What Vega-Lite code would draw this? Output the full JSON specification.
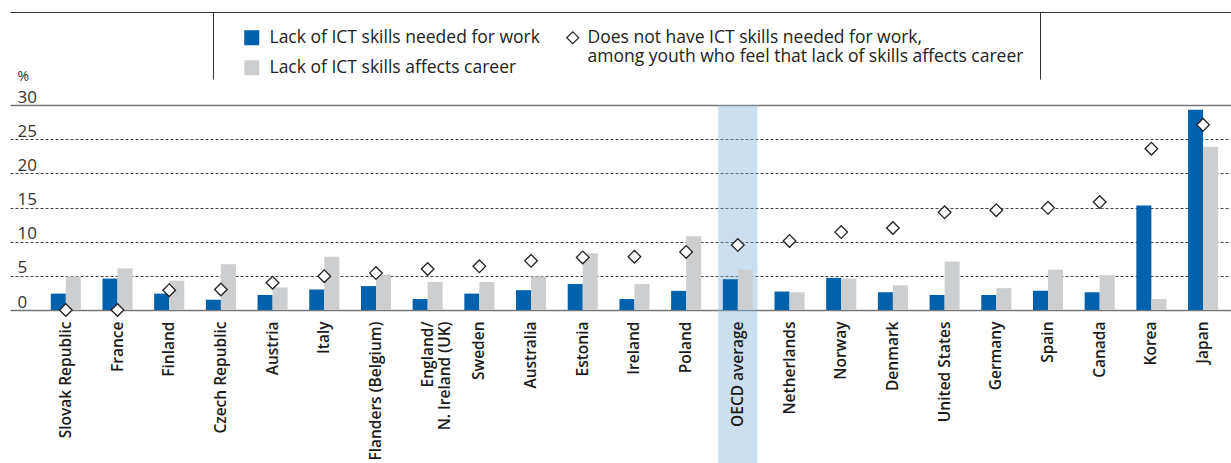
{
  "$schema": "https://vega.github.io/schema/vega-lite/v6.json",
  "width": 1221,
  "height": 205,
  "autosize": {"type": "none"},
  "padding": {"left": 10, "top": 105, "right": 0, "bottom": 153},
  "config": {"view": {"stroke": null}, "font": "Open Sans"},
  "data": {
    "values": [
      {"country": "Slovak Republic", "work": 2.4, "career": 4.9, "noskills": 0},
      {"country": "France", "work": 4.6, "career": 6.1, "noskills": 0},
      {"country": "Finland", "work": 2.4, "career": 4.3, "noskills": 2.9},
      {"country": "Czech Republic", "work": 1.5, "career": 6.7, "noskills": 3.0},
      {"country": "Austria", "work": 2.2, "career": 3.3, "noskills": 4.0},
      {"country": "Italy", "work": 3.0, "career": 7.8, "noskills": 4.95},
      {"country": "Flanders (Belgium)", "work": 3.5, "career": 5.2, "noskills": 5.4},
      {"country": "England/N. Ireland (UK)", "work": 1.6, "career": 4.1, "noskills": 6.0},
      {"country": "Sweden", "work": 2.4, "career": 4.1, "noskills": 6.4},
      {"country": "Australia", "work": 2.9, "career": 4.9, "noskills": 7.2},
      {"country": "Estonia", "work": 3.8, "career": 8.3, "noskills": 7.7},
      {"country": "Ireland", "work": 1.6, "career": 3.8, "noskills": 7.8},
      {"country": "Poland", "work": 2.8, "career": 10.8, "noskills": 8.5},
      {"country": "OECD average", "work": 4.5, "career": 5.9, "noskills": 9.5},
      {"country": "Netherlands", "work": 2.7, "career": 2.6, "noskills": 10.1},
      {"country": "Norway", "work": 4.7, "career": 4.6, "noskills": 11.4},
      {"country": "Denmark", "work": 2.6, "career": 3.6, "noskills": 12.0},
      {"country": "United States", "work": 2.2, "career": 7.1, "noskills": 14.3},
      {"country": "Germany", "work": 2.2, "career": 3.2, "noskills": 14.6},
      {"country": "Spain", "work": 2.8, "career": 5.9, "noskills": 14.95},
      {"country": "Canada", "work": 2.6, "career": 5.1, "noskills": 15.8},
      {"country": "Korea", "work": 15.3, "career": 1.6, "noskills": 23.6},
      {"country": "Japan", "work": 29.3, "career": 23.9, "noskills": 27.1}
    ]
  },
  "layer": [
    {
      "transform": [{"filter": "datum.country == 'OECD average'"}],
      "mark": {"type": "bar", "width": {"band": 0.76}, "fill": "#7fb0dc", "opacity": 0.4},
      "encoding": {
        "x": {"field": "country", "type": "nominal", "sort": null, "axis": null,
          "scale": {"paddingInner": 0, "paddingOuter": 0.31, "align": 0.935}},
        "y": {"datum": 30, "type": "quantitative", "scale": {"domain": [0, 30], "nice": false}, "axis": null},
        "y2": {"datum": -22.5}
      }
    },
    {
      "transform": [{"fold": ["work", "career"], "as": ["key", "value"]}],
      "mark": {"type": "bar"},
      "encoding": {
        "x": {"field": "country", "type": "nominal", "sort": null,
          "scale": {"domain": ["Slovak Republic", "France", "Finland", "Czech Republic", "Austria", "Italy", "Flanders (Belgium)", "England/N. Ireland (UK)", "Sweden", "Australia", "Estonia", "Ireland", "Poland", "OECD average", "Netherlands", "Norway", "Denmark", "United States", "Germany", "Spain", "Canada", "Korea", "Japan"],
            "paddingInner": 0, "paddingOuter": 0.31, "align": 0.935},
          "axis": {"orient": "bottom", "title": null, "labelAngle": -90, "labelAlign": "right", "labelBaseline": "middle",
            "labelPadding": 11, "ticks": false, "domain": false, "grid": false,
            "labelFontSize": 15.5, "labelFontWeight": 600, "labelColor": "#1a1a1a", "labelLimit": 300, "zindex": 1,
            "labelExpr": "datum.value == 'England/N. Ireland (UK)' ? ['England/', 'N. Ireland (UK)'] : datum.value"}},
        "xOffset": {"field": "key", "type": "nominal", "sort": null,
          "scale": {"domain": ["work", "career"], "paddingInner": 0, "paddingOuter": 0.72}},
        "y": {"field": "value", "type": "quantitative", "scale": {"domain": [0, 30], "nice": false},
          "axis": {
            "orient": "left", "title": "%", "titleAngle": 0, "titleAlign": "left", "titleBaseline": "bottom",
            "titleX": 7, "titleY": -22, "titleFontSize": 14, "titleFontWeight": "normal", "titleColor": "#333",
            "values": [0, 5, 10, 15, 20, 25, 30],
            "labelAlign": "left", "labelBaseline": "alphabetic", "labelPadding": -7, "labelOffset": -3,
            "labelFontSize": 17, "labelColor": "#333", "labelOverlap": false, "labelFlush": false,
            "ticks": false, "domain": false, "grid": true,
            "gridColor": {"condition": {"test": "datum.value == 0 || datum.value == 30", "value": "#777"}, "value": "#444"},
            "gridWidth": {"condition": {"test": "datum.value == 0 || datum.value == 30", "value": 1.5}, "value": 1},
            "gridDash": {"condition": {"test": "datum.value == 0 || datum.value == 30", "value": []}, "value": [3, 2]}
          }},
        "color": {"field": "key", "type": "nominal",
          "scale": {"domain": ["work", "career"], "range": ["#0061ac", "#cdced0"]},
          "legend": {"orient": "none", "legendX": 233, "legendY": -76, "title": null, "padding": 0,
            "symbolType": "square", "symbolSize": 225, "symbolStrokeWidth": 0,
            "labelFontSize": 17.5, "labelOffset": 9, "rowPadding": 11, "labelLimit": 400, "labelColor": "#222",
            "labelExpr": "datum.value == 'work' ? 'Lack of ICT skills needed for work' : 'Lack of ICT skills affects career'"}}
      }
    },
    {
      "mark": {"type": "point", "shape": "diamond", "filled": true, "fill": "white", "strokeWidth": 1.3, "size": 160, "opacity": 1},
      "encoding": {
        "x": {"field": "country", "type": "nominal", "sort": null,
          "scale": {"paddingInner": 0, "paddingOuter": 0.31, "align": 0.935},
          "axis": {"orient": "top", "offset": 93, "title": null, "labels": false, "grid": false,
            "domain": true, "domainColor": "#333", "domainWidth": 1.2,
            "ticks": true, "values": ["Czech Republic", "Spain"], "tickOffset": -7.5, "tickSize": -67,
            "tickColor": "#333", "tickWidth": 1}},
        "y": {"field": "noskills", "type": "quantitative", "scale": {"domain": [0, 30], "nice": false}, "axis": null},
        "stroke": {"datum": "ds", "type": "nominal", "scale": {"range": ["#222"]},
          "legend": {"orient": "none", "legendX": 554, "legendY": -76, "title": null, "padding": 0,
            "symbolType": "diamond", "symbolSize": 144, "symbolFillColor": "white",
            "symbolStrokeWidth": 1.2, "symbolOpacity": 1,
            "labelFontSize": 17.5, "labelOffset": 6, "labelLimit": 600, "labelColor": "#222",
            "labelExpr": "['Does not have ICT skills needed for work,', 'among youth who feel that lack of skills affects career']"}}
      }
    }
  ],
  "resolve": {"axis": {"x": "independent", "y": "independent"}}
}
